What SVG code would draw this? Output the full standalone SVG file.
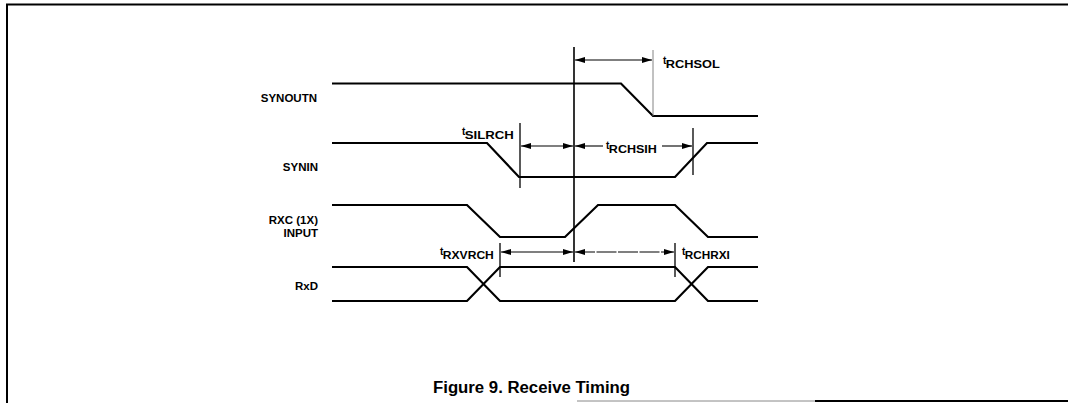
<svg xmlns="http://www.w3.org/2000/svg" width="1068" height="403" viewBox="0 0 1068 403">
<defs>
<marker id="ah" viewBox="0 0 10 6" refX="10" refY="3" markerWidth="10" markerHeight="6" markerUnits="userSpaceOnUse" orient="auto-start-reverse">
<path d="M0,0 L10,3 L0,6 Z" fill="#000"/>
</marker>
<style>
.sig{fill:none;stroke:#000;stroke-width:2.2;stroke-linejoin:miter}
.tick{fill:none;stroke:#000;stroke-width:1.3}
.arr{fill:none;stroke:#000;stroke-width:1.1}
.lbl{font-family:"Liberation Sans",Arial,sans-serif;font-weight:bold;font-size:11.5px;fill:#000}
.tt{font-family:"Liberation Sans",Arial,sans-serif;font-weight:bold;font-size:11px;fill:#000}
.ts{font-family:"Liberation Sans",Arial,sans-serif;font-weight:bold;font-size:10px;fill:#000}
.cap{font-family:"Liberation Sans",Arial,sans-serif;font-weight:bold;font-size:16px;fill:#000}
</style>
</defs>
<rect width="1068" height="403" fill="#fff"/>
<g id="frame">
<line x1="6" y1="4.5" x2="1068" y2="4.5" stroke="#000" stroke-width="2"/>
<line x1="7" y1="4" x2="7" y2="403" stroke="#000" stroke-width="2"/>
<line x1="577" y1="401" x2="815" y2="401" stroke="#888" stroke-width="1"/>
<line x1="815" y1="401" x2="1068" y2="401" stroke="#000" stroke-width="2"/>
</g>
<g id="synoutn">
<text class="lbl" x="317" y="102" text-anchor="end">SYNOUTN</text>
<polyline class="sig" points="332,83.5 621,83.5 653,116 758,116"/>
</g>
<g id="synin">
<text class="lbl" x="318" y="171" text-anchor="end">SYNIN</text>
<polyline class="sig" points="332,143 487,143 519,177 675,177 707,143 758,143"/>
</g>
<g id="rxc">
<text class="lbl" x="318" y="224" text-anchor="end">RXC (1X)</text>
<text class="lbl" x="318" y="237" text-anchor="end">INPUT</text>
<polyline class="sig" points="332,205 467,205 500,237 565,237 598,205 675,205 708,237 758,237"/>
</g>
<g id="rxd">
<text class="lbl" x="318" y="290" text-anchor="end">RxD</text>
<polyline class="sig" points="332,267 467,267 500,301 675,301 708,267 758,267"/>
<polyline class="sig" points="332,301 467,301 500,267 675,267 708,301 758,301"/>
</g>
<g id="connectors">
<line x1="574" y1="47" x2="574" y2="262" stroke="#000" stroke-width="1.6"/>
<line x1="653" y1="50" x2="653" y2="116" stroke="#777" stroke-width="0.9"/>
<line class="arr" x1="575" y1="60" x2="652" y2="60" marker-start="url(#ah)" marker-end="url(#ah)"/>
<line class="tick" x1="520" y1="123" x2="520" y2="188"/>
<line class="tick" x1="693" y1="128" x2="693" y2="175"/>
<line class="arr" x1="521" y1="146" x2="573" y2="146" marker-start="url(#ah)" marker-end="url(#ah)"/>
<line class="arr" x1="575" y1="146" x2="603" y2="146" marker-start="url(#ah)"/>
<line class="arr" x1="662" y1="146" x2="692" y2="146" marker-end="url(#ah)"/>
<line class="tick" x1="500" y1="243" x2="500" y2="277"/>
<line class="tick" x1="675" y1="243" x2="675" y2="277"/>
<line class="arr" x1="501" y1="252" x2="573" y2="252" marker-start="url(#ah)" marker-end="url(#ah)"/>
<line class="arr" x1="575" y1="252" x2="674" y2="252" stroke-dasharray="20,1.5" marker-start="url(#ah)" marker-end="url(#ah)"/>
</g>
<g id="timing-labels">
<text x="663" y="68"><tspan class="ts" dy="-4">t</tspan><tspan class="tt" dy="4" dx="-0.5" textLength="54" lengthAdjust="spacingAndGlyphs">RCHSOL</tspan></text>
<text x="462" y="139"><tspan class="ts" dy="-4">t</tspan><tspan class="tt" dy="4" dx="-0.5" textLength="49" lengthAdjust="spacingAndGlyphs">SILRCH</tspan></text>
<text x="606" y="153"><tspan class="ts" dy="-4">t</tspan><tspan class="tt" dy="4" dx="-0.5" textLength="48" lengthAdjust="spacingAndGlyphs">RCHSIH</tspan></text>
<text x="440" y="259"><tspan class="ts" dy="-4">t</tspan><tspan class="tt" dy="4" dx="-0.5" textLength="51" lengthAdjust="spacingAndGlyphs">RXVRCH</tspan></text>
<text x="682" y="259"><tspan class="ts" dy="-4">t</tspan><tspan class="tt" dy="4" dx="-0.5" textLength="45" lengthAdjust="spacingAndGlyphs">RCHRXI</tspan></text>
</g>
<g id="caption">
<text class="cap" x="433" y="393" textLength="197" lengthAdjust="spacingAndGlyphs">Figure 9. Receive Timing</text>
</g>
</svg>
